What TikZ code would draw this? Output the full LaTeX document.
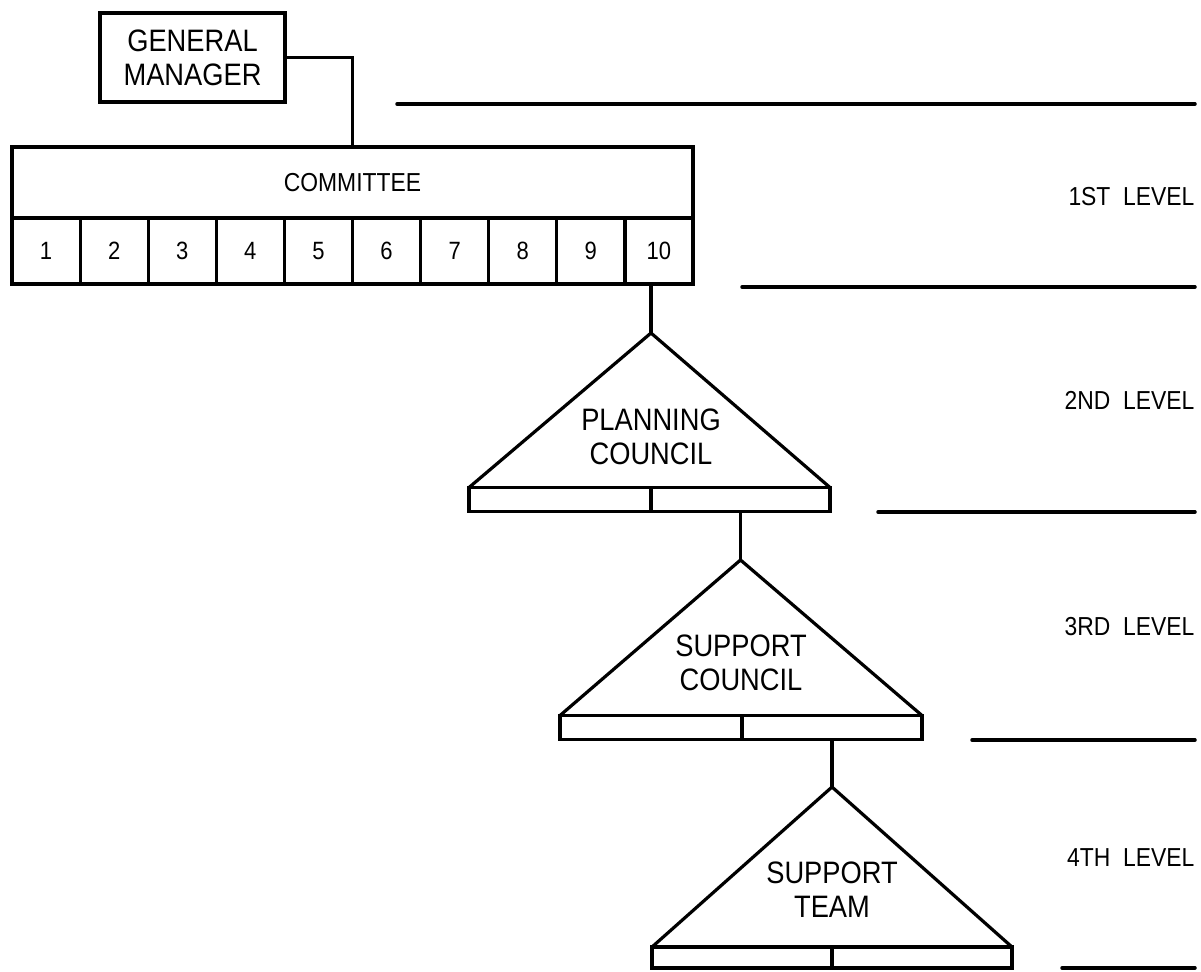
\documentclass[tikz,border=0pt]{standalone}
\usepackage{fontspec}
\setmainfont{Liberation Sans}[FakeStretch=0.88]
\begin{document}
\begin{tikzpicture}[x=1pt,y=-1pt,line width=3.2pt,
  box/.style={draw,rectangle,inner sep=0pt,outer sep=0pt,align=center,font=\fontsize{31}{34}\selectfont},
  cell/.style={draw,rectangle,inner sep=0pt,outer sep=0pt,minimum width=68.1pt,minimum height=66pt,font=\fontsize{25}{28}\selectfont},
  barbox/.style={draw,rectangle,inner sep=0pt,outer sep=0pt,minimum height=24pt},
  tri/.style={line join=miter},
  tritext/.style={align=center,font=\fontsize{31}{34}\selectfont},
  levelline/.style={line width=3.5pt,line cap=round},
  levellabel/.style={anchor=east,inner sep=0pt,font=\fontsize{26}{28}\selectfont}]
\useasboundingbox (0,0) rectangle (1201,971);

% General manager and committee
\node[box,minimum width=185pt,minimum height=89pt] (gm) at (192.5,57.5) {GENERAL\\MANAGER};
\node[box,minimum width=681pt,minimum height=71pt,font=\fontsize{26}{28}\selectfont] (comm) at (352.5,182.5) {COMMITTEE};
\foreach \i in {1,...,10} {
  \node[cell] (c\i) at ({12+68.1*(\i-0.5)},251) {\i};
}
\draw (gm.east) -| (comm.north);

% Planning council
\coordinate (apex1) at (651,333);
\node[barbox,minimum width=182pt] (b1a) at (560,499.5) {};
\node[barbox,minimum width=179pt] (b1b) at (740.5,499.5) {};
\draw[tri] (b1a.north west) -- (apex1) -- (b1b.north east);
\node[tritext] (pc) at (651,437) {PLANNING\\COUNCIL};
\draw (c10.south -| apex1) -- (apex1);

% Support council
\coordinate (apex2) at (740.5,560);
\node[barbox,minimum width=182pt] (b2a) at (651,727.5) {};
\node[barbox,minimum width=180pt] (b2b) at (832,727.5) {};
\draw[tri] (b2a.north west) -- (apex2) -- (b2b.north east);
\node[tritext] (sc) at (741,663) {SUPPORT\\COUNCIL};
\draw (b1b.south) -- (apex2);

% Support team
\coordinate (apex3) at (832,787);
\node[barbox,minimum width=180pt,minimum height=21pt] (b3a) at (742,957.5) {};
\node[barbox,minimum width=180pt,minimum height=21pt] (b3b) at (922,957.5) {};
\draw[tri] (b3a.north west) -- (apex3) -- (b3b.north east);
\node[tritext] (st) at (832,890) {SUPPORT\\TEAM};
\draw (b2b.south) -- (apex3);

% Level lines and labels
\draw[levelline] (397,104) -- (1195,104);
\draw[levelline] (742,287) -- (1195,287);
\draw[levelline] (878,512) -- (1195,512);
\draw[levelline] (972,740) -- (1195,740);
\draw[levelline] (1062,968) -- (1195,968);
\node[levellabel] (l1) at (1196,197) {1ST\ \ LEVEL};
\node[levellabel] (l2) at (1196,400) {2ND\ \ LEVEL};
\node[levellabel] (l3) at (1196,627) {3RD\ \ LEVEL};
\node[levellabel] (l4) at (1196,858) {4TH\ \ LEVEL};
\end{tikzpicture}
\end{document}
